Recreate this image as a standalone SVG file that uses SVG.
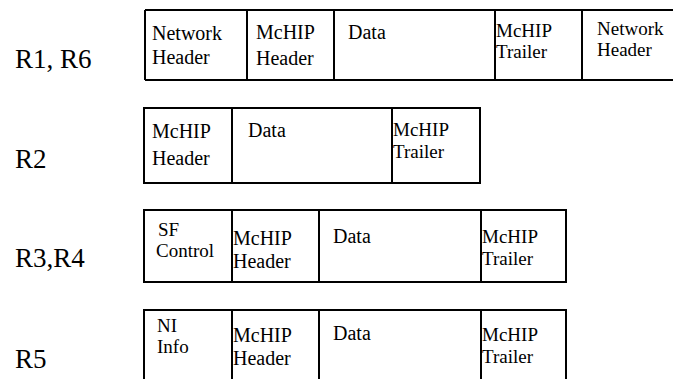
<svg xmlns="http://www.w3.org/2000/svg" width="673" height="379" viewBox="0 0 673 379">
<style>
.frame{fill:none;stroke:#000;stroke-width:2}
.t{font-family:'Liberation Serif','Times New Roman',Times,serif;font-size:20px;fill:#000}
.s{font-size:19px}
.lbl{font-family:'Liberation Serif','Times New Roman',Times,serif;font-size:27px;fill:#000}
</style>
<rect width="673" height="379" fill="#fff"/>
<g id="row-r1r6" font-family="Liberation Serif, Times New Roman, serif">
  <text class="lbl" x="15" y="68">R1, R6</text>
  <path class="frame" d="M145,10 H673 M145,80 H673 M145,10 V80 M247,10 V80 M334,10 V80 M495,10 V80 M582,10 V80"/>
  <text class="t" x="152" y="40">Network</text>
  <text class="t" x="152" y="64">Header</text>
  <text class="t" x="256" y="39">McHIP</text>
  <text class="t" x="256" y="65">Header</text>
  <text class="t" x="348" y="39">Data</text>
  <text class="t s" x="496" y="37">McHIP</text>
  <text class="t s" x="496" y="58">Trailer</text>
  <text class="t s" x="597" y="35">Network</text>
  <text class="t s" x="597" y="56">Header</text>
</g>
<g id="row-r2" font-family="Liberation Serif, Times New Roman, serif">
  <text class="lbl" x="15" y="168">R2</text>
  <path class="frame" d="M144,108 H480 V183 H144 Z M232,108 V183 M392,108 V183"/>
  <text class="t" x="152" y="138">McHIP</text>
  <text class="t" x="152" y="165">Header</text>
  <text class="t" x="248" y="137">Data</text>
  <text class="t s" x="393" y="136">McHIP</text>
  <text class="t s" x="393" y="158">Trailer</text>
</g>
<g id="row-r3r4" font-family="Liberation Serif, Times New Roman, serif">
  <text class="lbl" x="15" y="267">R3,R4</text>
  <path class="frame" d="M144,210 H566 V282 H144 Z M232,210 V282 M319,210 V282 M481,210 V282"/>
  <text class="t s" x="158" y="236">SF</text>
  <text class="t s" x="156" y="257">Control</text>
  <text class="t" x="233" y="245">McHIP</text>
  <text class="t" x="233" y="268">Header</text>
  <text class="t" x="333" y="243">Data</text>
  <text class="t s" x="482" y="243">McHIP</text>
  <text class="t s" x="482" y="265">Trailer</text>
</g>
<g id="row-r5" font-family="Liberation Serif, Times New Roman, serif">
  <text class="lbl" x="15" y="368">R5</text>
  <path class="frame" d="M144,380 V310 H566 V380 M232,310 V380 M319,310 V380 M481,310 V380"/>
  <text class="t s" x="157" y="332">NI</text>
  <text class="t s" x="157" y="353">Info</text>
  <text class="t" x="233" y="342">McHIP</text>
  <text class="t" x="233" y="365">Header</text>
  <text class="t" x="333" y="340">Data</text>
  <text class="t s" x="482" y="341">McHIP</text>
  <text class="t s" x="482" y="363">Trailer</text>
</g>
<g id="connectors"></g>
</svg>
